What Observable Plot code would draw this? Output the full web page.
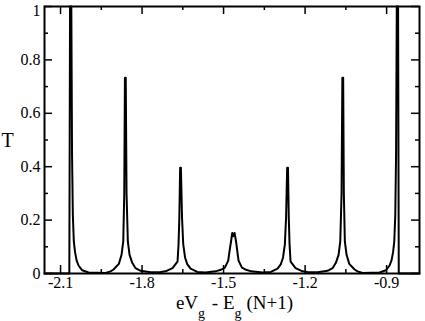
<!DOCTYPE html>
<html>
<head>
<meta charset="utf-8">
<script src="https://cdn.jsdelivr.net/npm/d3@7"></script>
<script src="https://cdn.jsdelivr.net/npm/@observablehq/plot@0.6"></script>
<style>
  html, body { margin: 0; padding: 0; background: #fff; }
</style>
</head>
<body>
<div id="chart"></div>
<script>
// Gate voltage offset eV_g - E_g(N+1)
const gateOffset = [-2.159, -2.0676, -2.065, -2.0603, -2.0577, -2.0547, -2.0511, -2.0466, -2.0411, -2.0338,
  -2.0201, -1.9969, -1.9344, -1.916, -1.9049, -1.8854, -1.8755, -1.8692, -1.8655, -1.863,
  -1.86, -1.8571, -1.8523, -1.846, -1.8361, -1.8239, -1.8056, -1.7687, -1.732, -1.7135,
  -1.6878, -1.6731, -1.6694, -1.6657, -1.6628, -1.6599, -1.657, -1.6529, -1.6485, -1.6418,
  -1.6337, -1.6215, -1.5969, -1.5663, -1.5295, -1.5074, -1.4953, -1.4828, -1.478, -1.4725,
  -1.4681, -1.4641, -1.4596, -1.4541, -1.4497, -1.4449, -1.4324, -1.4202, -1.3981, -1.3565,
  -1.326, -1.3013, -1.2892, -1.2811, -1.2744, -1.27, -1.266, -1.263, -1.2601, -1.2572,
  -1.2535, -1.2498, -1.2351, -1.2094, -1.191, -1.1541, -1.1173, -1.0989, -1.0868, -1.0768,
  -1.0706, -1.0658, -1.0629, -1.0599, -1.0574, -1.0537, -1.0474, -1.0375, -1.018, -1.0069,
  -0.9885, -0.9259, -0.9027, -0.8891, -0.8817, -0.8762, -0.8718, -0.8681, -0.8652, -0.8626,
  -0.8578, -0.8553, -0.779];
// Transmission T
const transmission = [0, 0, 1, 1, 0.45, 0.22, 0.12, 0.08, 0.05, 0.03,
  0.012, 0.004, 0.002, 0.008, 0.015, 0.036, 0.07, 0.12, 0.3, 0.733,
  0.733, 0.3, 0.12, 0.07, 0.04, 0.02, 0.01, 0.005, 0.006, 0.008,
  0.02, 0.04, 0.045, 0.11, 0.21, 0.396, 0.396, 0.21, 0.11, 0.06,
  0.035, 0.018, 0.006, 0.004, 0.008, 0.015, 0.022, 0.048, 0.085, 0.12,
  0.152, 0.14, 0.152, 0.12, 0.085, 0.048, 0.022, 0.015, 0.008, 0.004,
  0.006, 0.018, 0.035, 0.06, 0.11, 0.21, 0.396, 0.396, 0.21, 0.11,
  0.045, 0.04, 0.02, 0.008, 0.006, 0.005, 0.01, 0.02, 0.04, 0.07,
  0.12, 0.3, 0.733, 0.733, 0.3, 0.12, 0.07, 0.036, 0.015, 0.008,
  0.002, 0.004, 0.012, 0.03, 0.05, 0.08, 0.12, 0.22, 0.45, 1,
  1, 0, 0];

const xMajorTicks = [-2.1, -1.8, -1.5, -1.2, -0.9];
const xMinorTicks = [-1.95, -1.65, -1.35, -1.05];
const yMajorTicks = [0, 0.2, 0.4, 0.6, 0.8, 1];
const yMinorTicks = [0.1, 0.3, 0.5, 0.7, 0.9];
const xDomain = [-2.159, -0.779];
const yDomain = [0, 1];
const xLabelParts = ["eV", "g", " - E", "g", "(N+1)"];
const yLabel = "T";

const W = 425, H = 321;
const mL = 44, mR = 6, mT = 6, mB = 48;
const fw = W - mL - mR, fh = H - mT - mB;
const majorLen = 8, minorLen = 4;
const FONT = "'Liberation Serif', 'Times New Roman', serif";

const data = gateOffset.map((x, i) => ({x, t: transmission[i]}));

const plot = Plot.plot({
  width: W,
  height: H,
  marginLeft: mL,
  marginRight: mR,
  marginTop: mT,
  marginBottom: mB,
  style: {fontFamily: FONT, fontSize: "16px", background: "#fff", color: "#000"},
  x: {domain: xDomain, label: null},
  y: {domain: yDomain, label: null},
  marks: [
    Plot.line(data, {x: "x", y: "t", stroke: "#000", strokeWidth: 2}),
    // inward ticks on all four sides
    Plot.tickX(xMajorTicks, {x: d => d, insetTop: fh - majorLen, stroke: "#000", strokeWidth: 1.5}),
    Plot.tickX(xMajorTicks, {x: d => d, insetBottom: fh - majorLen, stroke: "#000", strokeWidth: 1.5}),
    Plot.tickX(xMinorTicks, {x: d => d, insetTop: fh - minorLen, stroke: "#000", strokeWidth: 1.5}),
    Plot.tickX(xMinorTicks, {x: d => d, insetBottom: fh - minorLen, stroke: "#000", strokeWidth: 1.5}),
    Plot.tickY(yMajorTicks, {y: d => d, insetRight: fw - majorLen, stroke: "#000", strokeWidth: 1.5}),
    Plot.tickY(yMajorTicks, {y: d => d, insetLeft: fw - majorLen, stroke: "#000", strokeWidth: 1.5}),
    Plot.tickY(yMinorTicks, {y: d => d, insetRight: fw - minorLen, stroke: "#000", strokeWidth: 1.5}),
    Plot.tickY(yMinorTicks, {y: d => d, insetLeft: fw - minorLen, stroke: "#000", strokeWidth: 1.5}),
    Plot.axisX({ticks: xMajorTicks, tickSize: 0, tickPadding: 3, tickFormat: d => d.toFixed(1), label: null, fontSize: 16}),
    Plot.axisY({ticks: yMajorTicks.filter(d => d < 1), tickSize: 0, tickPadding: 4, tickFormat: d => String(d), label: null, fontSize: 16}),
    Plot.axisY({ticks: yMajorTicks.filter(d => d === 1), tickSize: 0, tickPadding: 4, dy: 4, tickFormat: d => String(d), label: null, fontSize: 16}),
    Plot.frame({stroke: "#000", strokeWidth: 2})
  ]
});

const svg = d3.select(plot);
svg.append("text")
  .attr("x", 7.5).attr("y", 146.5)
  .attr("text-anchor", "middle")
  .attr("font-size", 20)
  .attr("fill", "#000")
  .text(yLabel);

const xl = svg.append("text")
  .attr("x", mL + fw / 2 + 3).attr("y", 309)
  .attr("text-anchor", "middle")
  .attr("font-size", 19)
  .attr("fill", "#000")
  .attr("xml:space", "preserve");
xl.append("tspan").text(xLabelParts[0]);
xl.append("tspan").attr("font-size", 14).attr("dy", 9).text(xLabelParts[1]);
xl.append("tspan").attr("dy", -9).attr("dx", 2).text(xLabelParts[2]);
xl.append("tspan").attr("font-size", 14).attr("dy", 9).text(xLabelParts[3]);
xl.append("tspan").attr("dy", -9).attr("dx", 5).text(xLabelParts[4]);

document.getElementById("chart").appendChild(plot);
</script>
</body>
</html>
